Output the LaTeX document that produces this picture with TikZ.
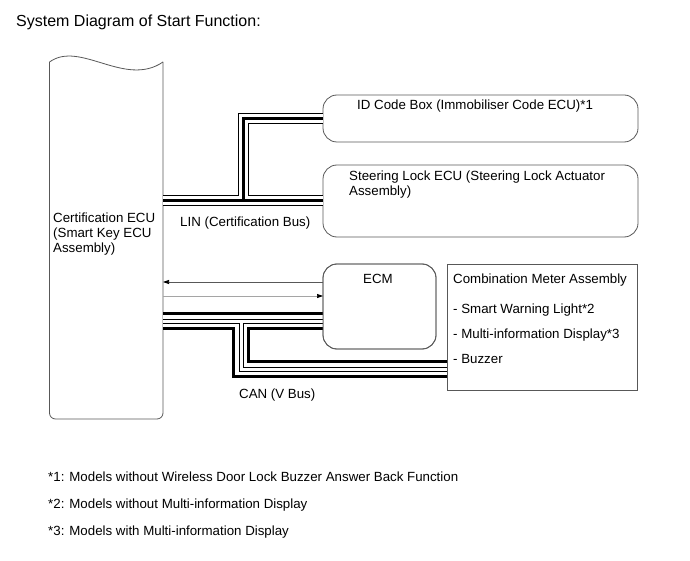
\documentclass[tikz,border=0pt]{standalone}
\usepackage{fontspec}
\setmainfont{Liberation Sans}
\usepackage{tikz}
\usetikzlibrary{arrows.meta,positioning}
\definecolor{ink}{HTML}{000000}
\definecolor{frame}{HTML}{585858}
\definecolor{faint}{HTML}{A5A5A5}

\begin{document}
\begin{tikzpicture}[x=1pt,y=-1pt]
    \tikzset{
      unit/.style={draw=frame,line width=0.8pt,rounded corners=14pt,anchor=north west,inner sep=0pt,outer sep=0pt},
      meter/.style={draw=frame,line width=0.8pt,anchor=north west,inner sep=0pt,outer sep=0pt},
      outline/.style={draw=frame,line width=0.8pt},
      txt/.style={anchor=base west,inner sep=0pt,align=left,font=\fontsize{13.3}{15}\selectfont},
      ecmline/.style={draw=frame,line width=0.7pt,-{Triangle[length=6pt,width=4pt,color=ink]}},
      eculine/.style={draw=faint,line width=0.7pt,-{Triangle[length=6pt,width=4pt,color=ink]}}
    }
    \path[fill=white] (0,0) rectangle (690,561);
    % units
    \node[anchor=north west,minimum width=113.5pt,minimum height=357pt,inner sep=0pt,outer sep=0pt] (ecu) at (49.5,62) {};
    \node[unit,minimum width=315pt,minimum height=47pt] (idbox) at (323,95) {};
    \node[unit,minimum width=315pt,minimum height=72pt] (steer) at (323,165) {};
    \node[unit,minimum width=113pt,minimum height=85pt] (ecm) at (323,264) {};
    \node[meter,minimum width=190pt,minimum height=126pt] (cm) at (447,264) {};
    \draw[outline,rounded corners=6pt] (ecu.north east) -- (ecu.south east) -- (ecu.south west) -- (ecu.north west);
    \draw[outline] (ecu.north west) .. controls +(30.5,-22) and +(-38,26) .. (ecu.north east);
    % LIN bus
    \coordinate (linj) at (243,201);
    \foreach \w/\c in {11/black,9/white,3/black}
      \draw[line width=\w pt,\c] (ecu.east |- steer.west) -- (steer.west) (linj) |- (idbox.west);
    % CAN bus
    \coordinate (canj) at (241,321);
    \coordinate (canc) at (241,369);
    \foreach \w/\c in {18.5/black,11.5/white,5/black,3/white}
      \draw[line width=\w pt,\c] (ecu.east |- canj) -- (ecm.west |- canj) (canj) -- (canc) -- (cm.west |- canc);
    % redraw frames over cable ends
    \draw[outline,rounded corners=14pt] (ecm.north west) rectangle (ecm.south east);
    \draw[outline] (cm.north west) rectangle (cm.south east);
    % direct lines
    \coordinate (rxa) at ([yshift=24.5pt]ecm.west);
    \coordinate (txa) at ([yshift=10.5pt]ecm.west);
    \draw[ecmline] (rxa) -- (rxa -| ecu.east);
    \draw[eculine] (txa -| ecu.east) -- (txa);
    % texts
    \node[anchor=base west,inner sep=0pt,font=\fontsize{16}{19}\selectfont] (title) at (16,26.5) {System Diagram of Start Function:};
    \node[txt] (ecutxt) at (53,252.7) {Certification ECU\\(Smart Key ECU\\Assembly)};
    \node[txt] (lintxt) at (180,226.7) {LIN (Certification Bus)};
    \node[txt] (idtxt) at (357,109.3) {ID Code Box (Immobiliser Code ECU)*1};
    \node[txt] (steertxt) at (349,195.5) {Steering Lock ECU (Steering Lock Actuator\\Assembly)};
    \node[txt,anchor=base] (ecmtxt) at (378,283.3) {ECM};
    \node[txt] (cmtxt) at (453,283.3) {Combination Meter Assembly};
    \node[txt] (lighttxt) at (453,313.3) {- Smart Warning Light*2};
    \node[txt] (disptxt) at (453,338.3) {- Multi-information Display*3};
    \node[txt] (buzztxt) at (453,363.3) {- Buzzer};
    \node[txt] (cantxt) at (239,398.3) {CAN (V Bus)};
    % notes
    \node[txt] (note1) at (48,481) {*1: Models without Wireless Door Lock Buzzer Answer Back Function};
    \node[txt] (note2) at (48,508.3) {*2: Models without Multi-information Display};
    \node[txt] (note3) at (48,535) {*3: Models with Multi-information Display};
  \end{tikzpicture}
\end{document}
